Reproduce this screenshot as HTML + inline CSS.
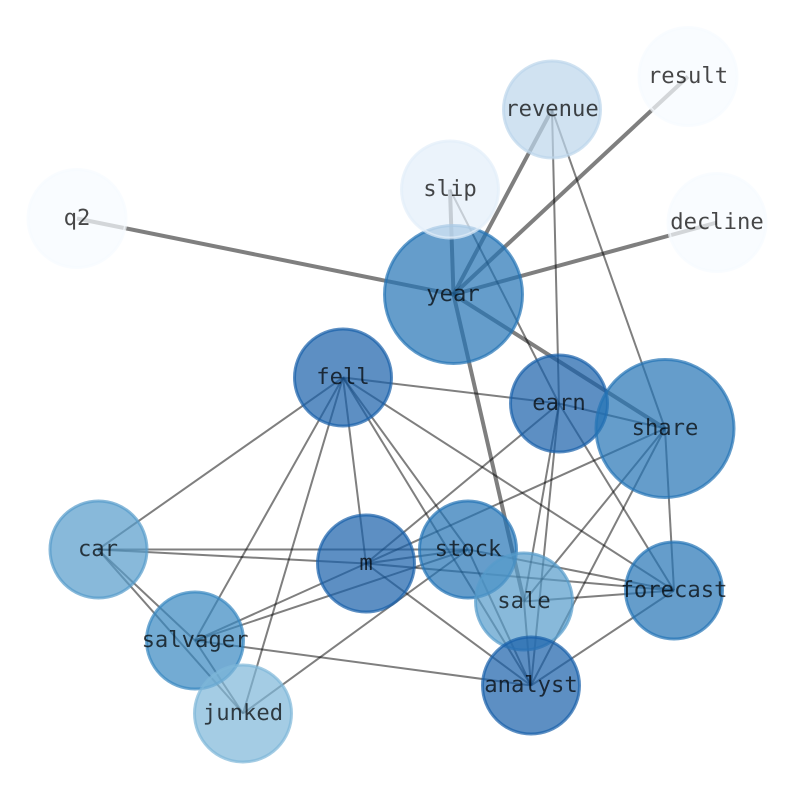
<!DOCTYPE html>
<html>
<head>
<meta charset="utf-8">
<style>
html,body{margin:0;padding:0;background:#fff;}
svg{display:block;}
text{font-family:"DejaVu Sans Mono","Liberation Mono",monospace;font-size:22.2px;fill:#000;fill-opacity:.72;text-anchor:middle;text-rendering:geometricPrecision;}
.e line{stroke:#000;stroke-opacity:.5;stroke-width:2;}
.t line{stroke:#000;stroke-opacity:.5;stroke-width:4;}
circle{stroke-width:3;fill-opacity:.7;stroke-opacity:.7;}
</style>
</head>
<body>
<svg width="794" height="790" viewBox="0 0 794 790" xmlns="http://www.w3.org/2000/svg">
<g transform="translate(0,.5)">
<g class="t">
<line x1="453.5" y1="294" x2="77" y2="218"/>
<line x1="453.5" y1="294" x2="688" y2="76"/>
<line x1="453.5" y1="294" x2="717" y2="222"/>
<line x1="453.5" y1="294" x2="552" y2="109"/>
<line x1="453.5" y1="294" x2="450" y2="189"/>
<line x1="453.5" y1="294" x2="665" y2="428"/>
<line x1="453.5" y1="294" x2="524" y2="601"/>
</g>
<g class="e">
<line x1="450" y1="189" x2="559" y2="403"/>
<line x1="552" y1="109" x2="559" y2="403"/>
<line x1="552" y1="109" x2="665" y2="428"/>
<line x1="343" y1="377" x2="559" y2="403"/>
<line x1="559" y1="403" x2="665" y2="428"/>
<line x1="343" y1="377" x2="98" y2="549"/>
<line x1="343" y1="377" x2="195" y2="640"/>
<line x1="343" y1="377" x2="243" y2="713"/>
<line x1="343" y1="377" x2="366" y2="563"/>
<line x1="343" y1="377" x2="468" y2="549"/>
<line x1="343" y1="377" x2="531" y2="685"/>
<line x1="343" y1="377" x2="674" y2="590"/>
<line x1="559" y1="403" x2="366" y2="563"/>
<line x1="559" y1="403" x2="674" y2="590"/>
<line x1="559" y1="403" x2="524" y2="601"/>
<line x1="559" y1="403" x2="531" y2="685"/>
<line x1="665" y1="428" x2="366" y2="563"/>
<line x1="665" y1="428" x2="674" y2="590"/>
<line x1="665" y1="428" x2="524" y2="601"/>
<line x1="665" y1="428" x2="531" y2="685"/>
<line x1="98" y1="549" x2="468" y2="549"/>
<line x1="98" y1="549" x2="366" y2="563"/>
<line x1="98" y1="549" x2="195" y2="640"/>
<line x1="98" y1="549" x2="243" y2="713"/>
<line x1="366" y1="563" x2="468" y2="549"/>
<line x1="366" y1="563" x2="674" y2="590"/>
<line x1="366" y1="563" x2="531" y2="685"/>
<line x1="366" y1="563" x2="195" y2="640"/>
<line x1="468" y1="549" x2="195" y2="640"/>
<line x1="468" y1="549" x2="243" y2="713"/>
<line x1="468" y1="549" x2="674" y2="590"/>
<line x1="468" y1="549" x2="531" y2="685"/>
<line x1="524" y1="601" x2="674" y2="590"/>
<line x1="524" y1="601" x2="531" y2="685"/>
<line x1="674" y1="590" x2="531" y2="685"/>
<line x1="195" y1="640" x2="531" y2="685"/>
<line x1="195" y1="640" x2="243" y2="713"/>
</g>
<g>
<circle cx="77" cy="218" r="49" fill="#f7fbff" stroke="#f7fbff"/>
<circle cx="688" cy="76" r="49" fill="#f7fbff" stroke="#f7fbff"/>
<circle cx="717" cy="222" r="49" fill="#f7fbff" stroke="#f7fbff"/>
<circle cx="552" cy="109" r="48.5" fill="#bcd6eb" stroke="#bcd6eb"/>
<circle cx="453.5" cy="294" r="69" fill="#2373b5" stroke="#2373b5"/>
<circle cx="450" cy="189" r="48.5" fill="#e3eef9" stroke="#e3eef9"/>
<circle cx="343" cy="377" r="48.5" fill="#1860aa" stroke="#1860aa"/>
<circle cx="559" cy="403" r="48.5" fill="#1860aa" stroke="#1860aa"/>
<circle cx="665" cy="428" r="69" fill="#2373b5" stroke="#2373b5"/>
<circle cx="98.5" cy="549" r="48.5" fill="#559bca" stroke="#559bca"/>
<circle cx="366" cy="563" r="48.5" fill="#1860aa" stroke="#1860aa"/>
<circle cx="468" cy="549" r="48.5" fill="#2373b5" stroke="#2373b5"/>
<circle cx="524" cy="601" r="48.5" fill="#559bca" stroke="#559bca"/>
<circle cx="674" cy="590" r="48.5" fill="#2373b5" stroke="#2373b5"/>
<circle cx="195" cy="640" r="48.5" fill="#3887c1" stroke="#3887c1"/>
<circle cx="243" cy="713" r="48.5" fill="#7db7d8" stroke="#7db7d8"/>
<circle cx="531" cy="685" r="48.5" fill="#1860aa" stroke="#1860aa"/>
</g>
</g>
<g transform="translate(0,1)">
<text x="77" y="224">q2</text>
<text x="688" y="82">result</text>
<text x="717" y="228">decline</text>
<text x="552" y="115">revenue</text>
<text x="450" y="195">slip</text>
<text x="453" y="300">year</text>
<text x="343" y="383">fell</text>
<text x="559" y="409">earn</text>
<text x="665" y="434">share</text>
<text x="98" y="555">car</text>
<text x="366" y="569">m</text>
<text x="468" y="555">stock</text>
<text x="524" y="607">sale</text>
<text x="674" y="596">forecast</text>
<text x="195" y="646">salvager</text>
<text x="243" y="719">junked</text>
<text x="531" y="691">analyst</text>
</g>
</svg>
</body>
</html>
